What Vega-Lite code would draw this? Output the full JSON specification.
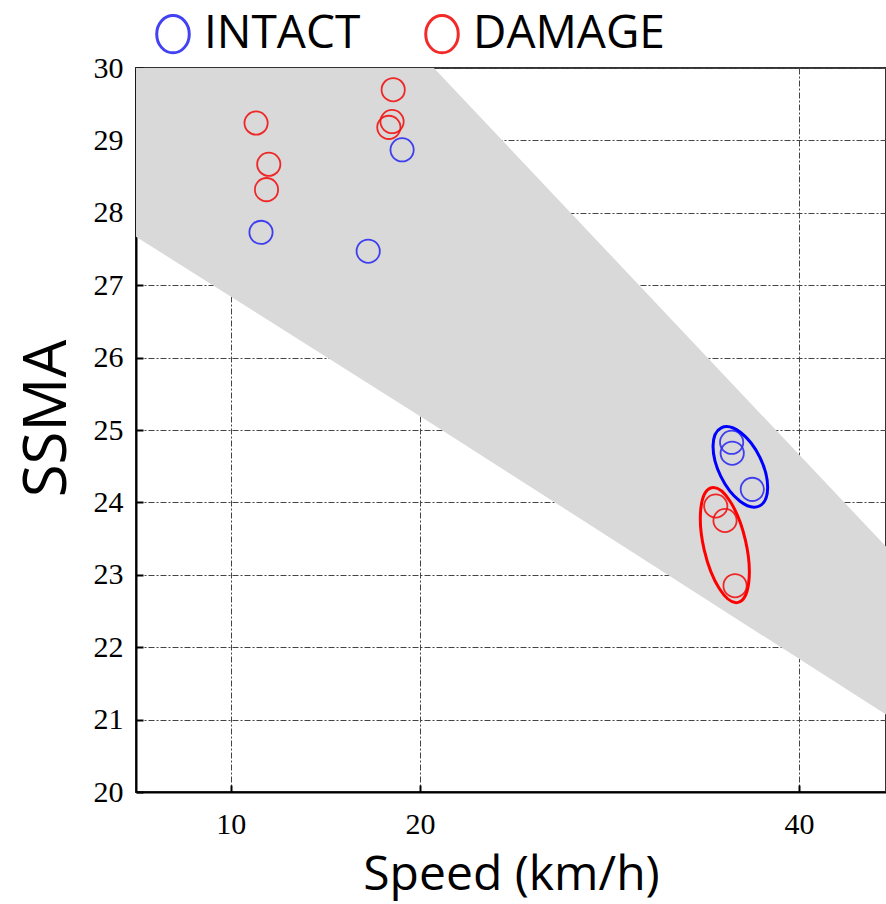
{
  "$schema": "https://vega.github.io/schema/vega-lite/v6.json",
  "width": 750,
  "height": 724,
  "autosize": {"type": "none"},
  "padding": {"left": 136, "top": 68, "right": 0, "bottom": 112},
  "background": "white",
  "config": {
    "view": {"stroke": "#333333", "strokeWidth": 2},
    "axis": {
      "labelFont": "Liberation Serif",
      "labelFontSize": 30,
      "labelColor": "black",
      "domainColor": "black",
      "domainWidth": 2,
      "tickColor": "black",
      "tickWidth": 2,
      "tickSize": -7,
      "grid": true,
      "gridColor": "#444444",
      "gridWidth": 1,
      "gridDash": [6, 2, 2, 2],
      "titleFont": "Open Sans",
      "titleFontWeight": "normal",
      "titleColor": "black",
      "zindex": 1
    },
    "legend": {
      "orient": "none",
      "legendX": 14,
      "legendY": -57,
      "direction": "horizontal",
      "symbolType": "M0,-1A0.87,1 0 1,1 0,1A0.87,1 0 1,1 0,-1Z",
      "symbolSize": 1400,
      "symbolStrokeWidth": 3,
      "labelFont": "Open Sans",
      "labelFontSize": 46,
      "labelLimit": 0,
      "labelOffset": 8,
      "columnPadding": 58
    }
  },
  "datasets": {
    "band": [
      {"speed": 5, "lo": 27.67, "hi": 30},
      {"speed": 20.73, "lo": 25.07, "hi": 30},
      {"speed": 44.6, "lo": 21.07, "hi": 23.39}
    ],
    "readings": [
      {"group": "INTACT", "speed": 19.05, "ssma": 28.87},
      {"group": "INTACT", "speed": 11.6, "ssma": 27.73},
      {"group": "INTACT", "speed": 17.26, "ssma": 27.47},
      {"group": "INTACT", "speed": 36.45, "ssma": 24.83},
      {"group": "INTACT", "speed": 36.48, "ssma": 24.68},
      {"group": "INTACT", "speed": 37.54, "ssma": 24.18},
      {"group": "DAMAGE", "speed": 18.58, "ssma": 29.7},
      {"group": "DAMAGE", "speed": 11.34, "ssma": 29.24},
      {"group": "DAMAGE", "speed": 18.52, "ssma": 29.26},
      {"group": "DAMAGE", "speed": 18.35, "ssma": 29.18},
      {"group": "DAMAGE", "speed": 12.01, "ssma": 28.67},
      {"group": "DAMAGE", "speed": 11.89, "ssma": 28.32},
      {"group": "DAMAGE", "speed": 35.61, "ssma": 23.95},
      {"group": "DAMAGE", "speed": 36.1, "ssma": 23.75},
      {"group": "DAMAGE", "speed": 36.63, "ssma": 22.85}
    ],
    "clusters": [
      {"group": "INTACT", "speed": 36.91, "ssma": 24.49},
      {"group": "DAMAGE", "speed": 36.09, "ssma": 23.41}
    ]
  },
  "encoding": {
    "x": {
      "field": "speed",
      "type": "quantitative",
      "scale": {"domain": [5, 44.6], "nice": false, "zero": false},
      "axis": {
        "values": [10, 20, 40],
        "title": "Speed (km/h)",
        "titleFontSize": 48,
        "titleBaseline": "alphabetic",
        "titleY": 97,
        "labelPadding": 24
      }
    },
    "y": {
      "field": "ssma",
      "type": "quantitative",
      "scale": {"domain": [20, 30], "nice": false, "zero": false},
      "axis": {
        "values": [20, 21, 22, 23, 24, 25, 26, 27, 28, 29, 30],
        "title": "SSMA",
        "titleFontSize": 60,
        "titleAngle": -90,
        "titleAlign": "center",
        "titleBaseline": "alphabetic",
        "titleX": -71,
        "titleY": 350,
        "labelPadding": 20
      }
    }
  },
  "layer": [
    {
      "data": {"name": "band"},
      "mark": {"type": "area", "color": "#d9d9d9", "clip": true},
      "encoding": {
        "x": {"field": "speed", "type": "quantitative"},
        "y": {"field": "lo", "type": "quantitative"},
        "y2": {"field": "hi"}
      }
    },
    {
      "data": {"name": "readings"},
      "mark": {"type": "point", "shape": "circle", "filled": false, "size": 540, "strokeWidth": 1.8, "opacity": 0.9},
      "encoding": {
        "stroke": {
          "field": "group",
          "type": "nominal",
          "scale": {"domain": ["INTACT", "DAMAGE"], "range": ["#2e2ef2", "#f21414"]},
          "legend": {
            "title": null,
            "encode": {
              "labels": {
                "update": {
                  "fill": {"signal": "datum.value === 'INTACT' ? '#3a3af2' : '#f21414'"}
                }
              }
            }
          }
        }
      }
    },
    {
      "data": {"name": "clusters"},
      "transform": [{"filter": "datum.group === 'INTACT'"}],
      "mark": {
        "type": "point",
        "shape": "M0,-1A0.5,1 0 1,1 0,1A0.5,1 0 1,1 0,-1Z",
        "angle": -26,
        "size": 7569,
        "filled": false,
        "stroke": "#0000ff",
        "strokeWidth": 3,
        "opacity": 1
      }
    },
    {
      "data": {"name": "clusters"},
      "transform": [{"filter": "datum.group === 'DAMAGE'"}],
      "mark": {
        "type": "point",
        "shape": "M0,-1A0.36,1 0 1,1 0,1A0.36,1 0 1,1 0,-1Z",
        "angle": -13,
        "size": 13830,
        "filled": false,
        "stroke": "#ff0000",
        "strokeWidth": 3,
        "opacity": 1
      }
    }
  ]
}
